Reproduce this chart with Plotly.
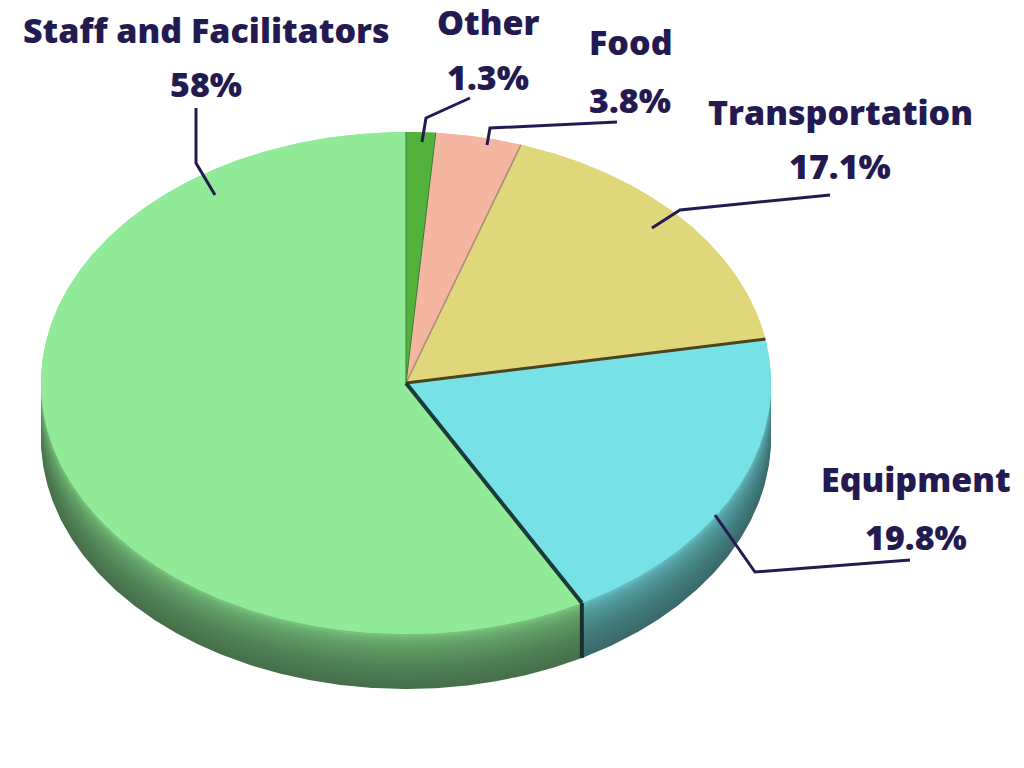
import numpy as np
import plotly.graph_objects as go

# data
categories = ["Other", "Food", "Transportation", "Equipment", "Staff and Facilitators"]
shares = [1.3, 3.8, 17.1, 19.8, 58]

# styles
face_colors = ["#53b23b", "#f4b5a1", "#e0d67a", "#76e2e5", "#90ea98"]
side_colors = ["#2e6824", "#9c6c5c", "#857c3e", "#3a6a6c", "#46704a"]
edge_colors = ["#3c7a38", "#3c7a38", "#a58c76", "#4a4420", "#1c3a3a"]
edge_widths = [1, 1, 1.5, 3, 4]
TEXT = "#241a52"
FONT = dict(family="Open Sans", size=34, color=TEXT, weight=800)

# ellipse geometry in page pixels (y grows downward)
CX, CY, RX, RY, DEPTH = 406, 383, 365, 251, 55

# label layout: name centre, value centre, leader line points
label_pos = {
    "Staff and Facilitators": ((206, 30), (206, 84), [(215, 195), (196, 163), (196, 108)]),
    "Other": ((488, 22), (488, 77), [(422, 142), (426, 118), (470, 98)]),
    "Food": ((631, 42), (630, 100), [(487, 145), (490, 128), (617, 122)]),
    "Transportation": ((840, 112), (840, 166), [(652, 228), (680, 210), (830, 195)]),
    "Equipment": ((916, 479), (916, 537), [(715, 515), (755, 572), (910, 560)]),
}


def rim(theta_deg, dy=0):
    t = np.radians(theta_deg)
    return CX + RX * np.sin(t), CY - RY * np.cos(t) + dy


def wedge(a0, a1, dy=0):
    th = np.linspace(a0, a1, max(int((a1 - a0) * 2), 3))
    x, y = rim(th, dy)
    return [CX] + list(x) + [CX], [CY + dy] + list(y) + [CY + dy]


def blend(c1, c2, f):
    a = [int(c1[i:i + 2], 16) for i in (1, 3, 5)]
    b = [int(c2[i:i + 2], 16) for i in (1, 3, 5)]
    return "rgb(%d,%d,%d)" % tuple(a[k] + (b[k] - a[k]) * f for k in range(3))


total = sum(shares)
bounds = np.concatenate([[0], np.cumsum(shares) / total * 360])

fig = go.Figure()

# side of the disc: stacked layers, darker toward the bottom
N = 26
for i in range(N):
    t = 1 - i / (N - 1)
    for k in range(len(categories)):
        x, y = wedge(bounds[k], bounds[k + 1], DEPTH * t)
        fig.add_trace(go.Scatter(
            x=x, y=y, fill="toself", mode="lines", line=dict(width=0),
            fillcolor=blend(face_colors[k], side_colors[k], min(1, t ** 0.35)),
            hoverinfo="skip", showlegend=False
        ))

# cut edge at the front where Equipment meets Staff
ex, ey = rim(bounds[4])
fig.add_trace(go.Scatter(x=[ex, ex], y=[ey, ey + DEPTH], mode="lines",
                         line=dict(color="#1a2e2e", width=4),
                         hoverinfo="skip", showlegend=False))

# top face
for k, name in enumerate(categories):
    x, y = wedge(bounds[k], bounds[k + 1])
    fig.add_trace(go.Scatter(
        x=x, y=y, fill="toself", mode="lines", line=dict(width=0),
        fillcolor=face_colors[k], name=name,
        text=f"{name}: {shares[k]:g}%", hoverinfo="text", showlegend=False
    ))

# slice boundaries
for k in range(len(categories)):
    bx, by = rim(bounds[k])
    fig.add_trace(go.Scatter(x=[CX, bx], y=[CY, by], mode="lines",
                             line=dict(color=edge_colors[k], width=edge_widths[k]),
                             hoverinfo="skip", showlegend=False))

# labels and leader lines
for k, name in enumerate(categories):
    name_xy, val_xy, leader = label_pos[name]
    fig.add_trace(go.Scatter(x=[p[0] for p in leader], y=[p[1] for p in leader],
                             mode="lines", line=dict(color=TEXT, width=3),
                             hoverinfo="skip", showlegend=False))
    fig.add_annotation(x=name_xy[0], y=name_xy[1], text=name, showarrow=False,
                       xanchor="center", yanchor="middle", font=FONT)
    fig.add_annotation(x=val_xy[0], y=val_xy[1], text=f"{shares[k]:g}%", showarrow=False,
                       xanchor="center", yanchor="middle", font=FONT)

fig.update_layout(
    width=1024, height=768,
    margin=dict(l=0, r=0, t=0, b=0),
    paper_bgcolor="white", plot_bgcolor="white",
    xaxis=dict(range=[0, 1024], visible=False, fixedrange=True),
    yaxis=dict(range=[768, 0], visible=False, fixedrange=True),
)

# drop the default body margin so the figure fills the window exactly
fig.write_html("out.html", config={"displayModeBar": False},
               post_script="document.body.style.margin='0';")
